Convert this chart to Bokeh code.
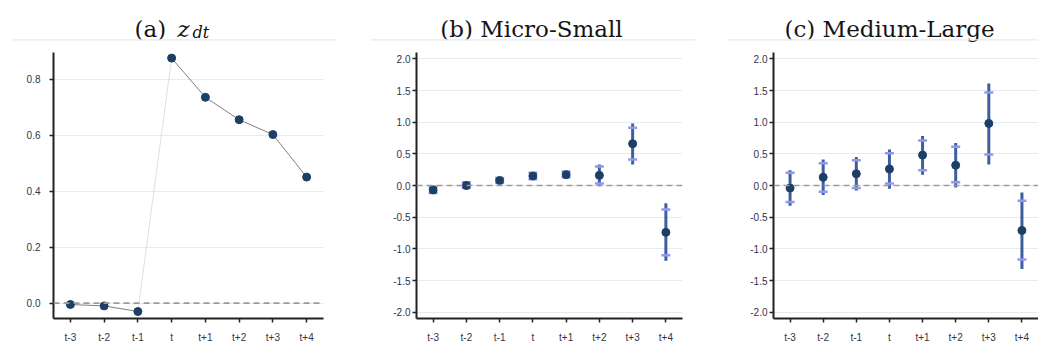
from bokeh.plotting import figure
from bokeh.layouts import row, column
from bokeh.models import (FactorRange, Range1d, Label, Span, BoxAnnotation,
                          ColumnDataSource, FixedTicker, PrintfTickFormatter)
from bokeh.embed import file_html
from bokeh.resources import INLINE

# ---------------- data ----------------
periods = ["t-3", "t-2", "t-1", "t", "t+1", "t+2", "t+3", "t+4"]

z_dt = [-0.005, -0.010, -0.030, 0.875, 0.735, 0.655, 0.602, 0.450]

ms_est  = [-0.07, 0.00, 0.08, 0.15, 0.17, 0.16, 0.66, -0.74]
ms_lo95 = [-0.13, -0.05, 0.03, 0.09, 0.12, -0.01, 0.33, -1.19]
ms_hi95 = [-0.01, 0.06, 0.13, 0.21, 0.23, 0.33, 0.98, -0.28]
ms_lo90 = [-0.12, -0.04, 0.04, 0.10, 0.13, 0.03, 0.41, -1.10]
ms_hi90 = [-0.02, 0.05, 0.12, 0.20, 0.22, 0.30, 0.91, -0.38]

ml_est  = [-0.04, 0.13, 0.185, 0.26, 0.48, 0.32, 0.98, -0.71]
ml_lo95 = [-0.32, -0.15, -0.08, -0.05, 0.17, -0.03, 0.33, -1.32]
ml_hi95 = [0.24, 0.41, 0.45, 0.57, 0.78, 0.67, 1.61, -0.11]
ml_lo90 = [-0.26, -0.10, -0.04, 0.03, 0.24, 0.05, 0.49, -1.17]
ml_hi90 = [0.20, 0.35, 0.40, 0.51, 0.71, 0.61, 1.47, -0.24]

ticks_a = [0.0, 0.2, 0.4, 0.6, 0.8]
ticks_bc = [-2.0, -1.5, -1.0, -0.5, 0.0, 0.5, 1.0, 1.5, 2.0]

title_b = "(b) Micro-Small"
title_c = "(c) Medium-Large"

# ---------------- style ----------------
AXIS = "#222222"
TICKLAB = "#33334a"
GRID = "#e3edf1"
PT = "#1d3f66"
CI = "#3f5f9c"
CAP = "#9298f0"
RULE = "#e3eeec"
TITLE_FONT = "DejaVu Serif"
TITLE_COLOR = "#151515"

# ---------------- title strip ----------------
strip = figure(width=1038, height=52, x_range=Range1d(0, 1038), y_range=Range1d(0, 52),
               x_axis_type=None, y_axis_type=None, output_backend="svg",
               toolbar_location=None, min_border=0, title=None)
strip.outline_line_color = None
strip.xgrid.grid_line_color = None
strip.ygrid.grid_line_color = None


def strip_label(x, y, text, size="23px", style="normal", align="left"):
    strip.add_layout(Label(x=x, y=y, x_units="screen", y_units="screen", text=text,
                           text_font=TITLE_FONT, text_font_size=size,
                           text_font_style=style, text_color=TITLE_COLOR,
                           text_baseline="alphabetic", text_align=align))


def strip_rule(x0, x1):
    strip.add_layout(BoxAnnotation(left=x0, right=x1, bottom=12, top=13.3,
                                   left_units="screen", right_units="screen",
                                   bottom_units="screen", top_units="screen",
                                   fill_color=RULE, fill_alpha=1, line_color=None))


strip_label(134, 24, "(a)")
strip_label(177, 24, "z", style="italic")
strip_label(192, 20, "dt", size="16px", style="italic")
strip_label(531, 24, title_b, align="center")
strip_label(889, 24, title_c, align="center")
strip_rule(12, 336)
strip_rule(370, 695)
strip_rule(727, 1038)


# ---------------- panels ----------------
def make_panel(left, right, yr, ticks, standoff):
    p = figure(width=346, height=297, x_range=FactorRange(*periods, range_padding=0),
               y_range=Range1d(*yr), output_backend="svg", toolbar_location=None,
               min_border_left=left, min_border_right=right,
               min_border_top=0, min_border_bottom=31, title=None)
    p.outline_line_color = None
    p.xgrid.grid_line_color = None
    p.ygrid.grid_line_color = GRID
    p.ygrid.grid_line_width = 1
    p.yaxis.ticker = FixedTicker(ticks=ticks)
    p.yaxis.formatter = PrintfTickFormatter(format="%.1f")
    for ax in (p.xaxis[0], p.yaxis[0]):
        ax.axis_line_width = 2
        ax.axis_line_color = AXIS
        ax.major_tick_line_color = AXIS
        ax.major_tick_line_width = 1.5
        ax.major_tick_out = 4
        ax.major_tick_in = 0
        ax.minor_tick_line_color = None
        ax.major_label_text_font = "Liberation Sans"
        ax.major_label_text_font_size = "10px"
        ax.major_label_text_color = TICKLAB
    p.xaxis.major_label_standoff = 9
    p.yaxis.major_label_standoff = standoff
    p.add_layout(Span(location=0, dimension="width", line_color="#9a9a9a",
                      line_dash="6 4", line_width=1.6))
    return p


# panel (a)
pa = make_panel(53, 23, (-0.055, 0.895), ticks_a, 9)
pa.line(periods[:3], z_dt[:3], line_color="#7f7f7f", line_width=1)
pa.line(periods[2:4], z_dt[2:4], line_color="#d8d8d8", line_width=0.8)
pa.line(periods[3:], z_dt[3:], line_color="#7f7f7f", line_width=1)
pa.scatter(periods, z_dt, size=8, color=PT)


def ci_panel(left, right, est, lo95, hi95, lo90, hi90):
    p = make_panel(left, right, (-2.1, 2.1), ticks_bc, 2)
    src = ColumnDataSource(dict(x=periods, est=est, lo95=lo95, hi95=hi95,
                                lo90=lo90, hi90=hi90))
    p.segment(x0="x", y0="lo95", x1="x", y1="hi95", source=src,
              line_color=CI, line_width=3)
    p.scatter(x="x", y="lo90", source=src, marker="dash", size=9,
              line_color=CAP, line_width=2.5)
    p.scatter(x="x", y="hi90", source=src, marker="dash", size=9,
              line_color=CAP, line_width=2.5)
    p.scatter(x="x", y="est", source=src, size=8, color=PT)
    return p


pb = ci_panel(70, 10, ms_est, ms_lo95, ms_hi95, ms_lo90, ms_hi90)
pc = ci_panel(81, 0, ml_est, ml_lo95, ml_hi95, ml_lo90, ml_hi90)

layout = column(strip, row(pa, pb, pc))
open("out.html", "w").write(file_html(layout, INLINE))
